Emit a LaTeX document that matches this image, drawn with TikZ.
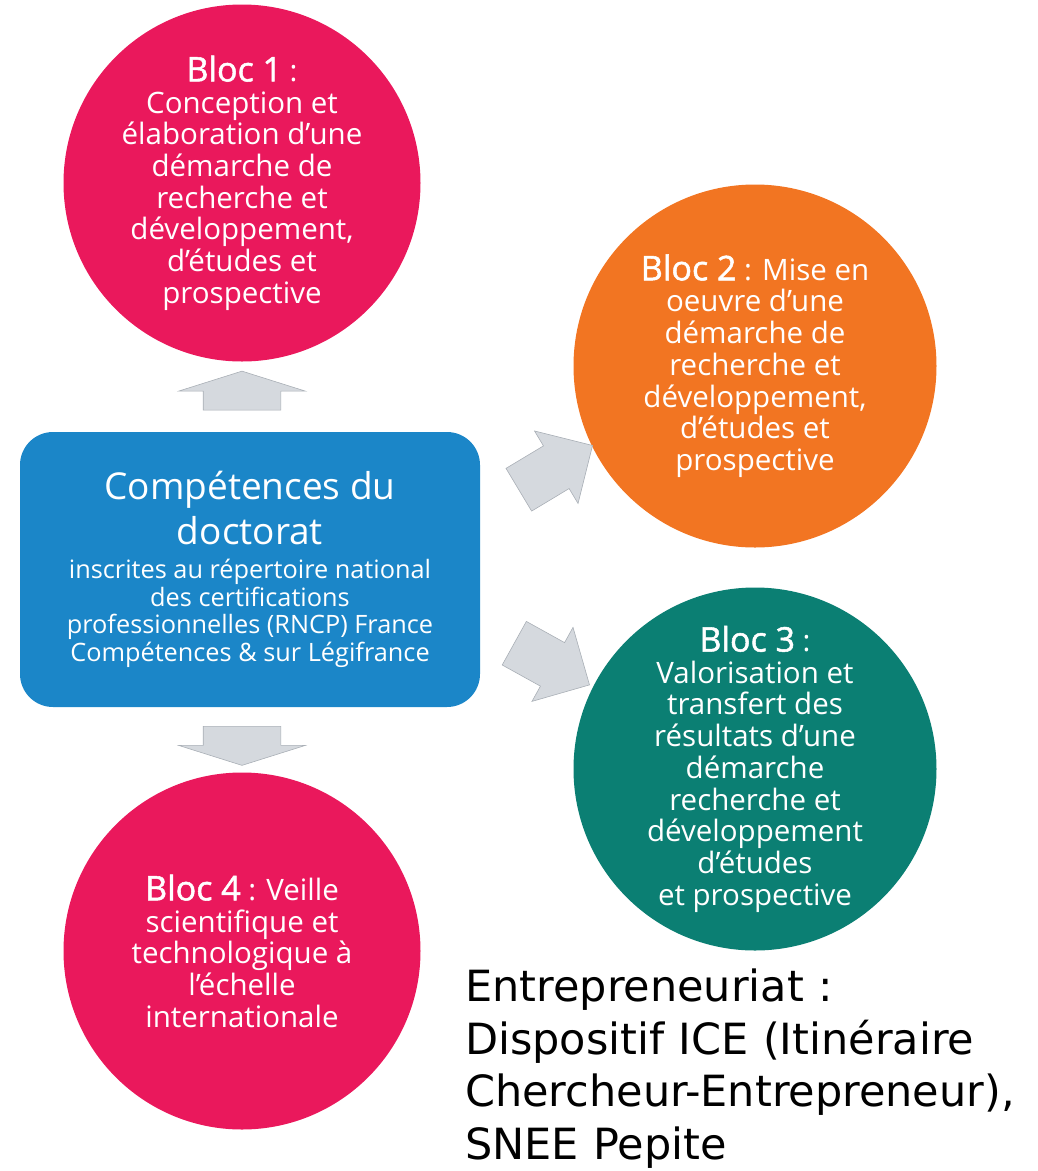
\documentclass[tikz,border=0pt]{standalone}
\usepackage{fontspec}
\setmainfont{Open Sans}
\newfontfamily\blocfont[FakeBold=1.5]{Open Sans}
\newfontfamily\entfont{DejaVu Sans}
\usetikzlibrary{shapes.arrows,calc}

\definecolor{blocpink}{HTML}{EA185C}
\definecolor{blocorange}{HTML}{F27522}
\definecolor{blocteal}{HTML}{0B7F73}
\definecolor{doctblue}{HTML}{1B86C8}
\definecolor{arrowfill}{HTML}{D5D9DE}
\definecolor{arrowline}{HTML}{A9AFB6}

\newcommand{\bloclabel}[1]{{\blocfont\fontsize{34}{34}\selectfont Bloc #1}}
\newcommand{\doctitle}{\fontsize{37}{37}\selectfont}

\tikzset{
  bloc/.style={circle, inner sep=0pt, text=white, align=center,
    font=\fontsize{29.5}{31.7}\selectfont},
  doctbox/.style={rectangle, rounded corners=33pt, fill=doctblue, text=white,
    align=center, inner sep=0pt, minimum width=460pt, minimum height=275pt,
    font=\fontsize{25.3}{27.7}\selectfont},
  grayarrow/.style={single arrow, fill=arrowfill, draw=arrowline,
    line width=0.6pt, inner xsep=0pt},
  flatarrow/.style={grayarrow, single arrow tip angle=145,
    single arrow head extend=24.5pt, inner ysep=38.5pt, minimum height=39pt},
  slantarrow/.style={grayarrow, single arrow tip angle=90,
    single arrow head extend=17.4pt, inner ysep=24.6pt, minimum height=86pt}
}

\begin{document}
\begin{tikzpicture}[x=1pt,y=-1pt]
    \useasboundingbox (0,0) rectangle (1038,1171);

    % central box
    \node[doctbox] (doct) at (250,569.5)
        {{\doctitle Compétences du}\\[7pt] {\doctitle doctorat}\\[6pt]
         inscrites au répertoire national\\ des certifications\\
         professionnelles (RNCP) France\\ Compétences \& sur Légifrance};

    % the four blocs
    \node[bloc, fill=blocpink, minimum size=357pt] (bloc1) at (242,183)
        {\bloclabel{1} :\\ Conception et\\ élaboration d’une\\ démarche de\\
         recherche et\\ développement,\\ d’études et\\ prospective};
    \node[bloc, fill=blocorange, minimum size=363pt] (bloc2) at (755,366)
        {\bloclabel{2} : Mise en\\ oeuvre d’une\\ démarche de\\ recherche et\\
         développement,\\ d’études et\\ prospective};
    \node[bloc, fill=blocteal, minimum size=363pt] (bloc3) at (755,769)
        {\bloclabel{3} :\\ Valorisation et\\ transfert des\\ résultats d’une\\
         démarche\\ recherche et\\ développement\\ d’études\\ et prospective};
    \node[bloc, fill=blocpink, minimum size=357pt] (bloc4) at (242,951)
        {\bloclabel{4} : Veille\\ scientifique et\\ technologique à\\
         l’échelle\\ internationale};

    % arrows
    \node[flatarrow, rotate=90] (up) at ($(bloc1.south)!.5!(bloc1.south |- doct.north)$) {};
    \node[flatarrow, rotate=-90] (down) at ($(bloc4.north |- doct.south)!.5!(bloc4.north)$) {};
    \node[slantarrow, rotate=31] (toblocb) at (545,474) {};
    \node[slantarrow, rotate=-29] (toblocc) at (541,658) {};

    % note
    \node[anchor=north west, inner sep=0pt, text width=600pt, align=left,
          font=\entfont\fontsize{43}{52.5}\selectfont] (ent) at (465,969)
        {Entrepreneuriat :\\ Dispositif ICE (Itinéraire\\
         Chercheur-Entrepreneur),\\ SNEE Pepite};
\end{tikzpicture}
\end{document}
